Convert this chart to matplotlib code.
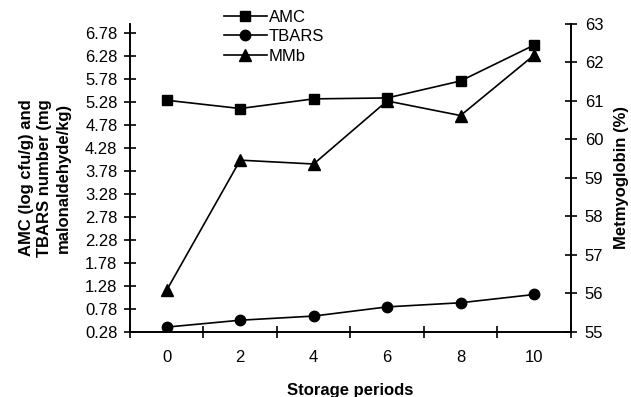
import numpy as np
import matplotlib.pyplot as plt
from matplotlib.ticker import FixedLocator, NullFormatter

plt.rcParams['font.family'] = ['Liberation Sans', 'DejaVu Sans']

# data
periods = ['0', '2', '4', '6', '8', '10']
amc = [5.32, 5.14, 5.35, 5.37, 5.74, 6.52]
tbars = [0.38, 0.53, 0.62, 0.82, 0.91, 1.09]
mmb = [56.08, 59.46, 59.36, 61.0, 60.62, 62.19]

left_ticks = [0.28, 0.78, 1.28, 1.78, 2.28, 2.78, 3.28, 3.78, 4.28, 4.78, 5.28, 5.78, 6.28, 6.78]
right_ticks = [55, 56, 57, 58, 59, 60, 61, 62, 63]

fig = plt.figure(figsize=(6.31, 3.97), dpi=100)
ax = fig.add_axes([0.206, 0.1645, 0.6985, 0.775])
ax2 = ax.twinx()

x = np.arange(len(periods))
l1, = ax.plot(x, amc, '-s', color='black', lw=1.2, ms=7, label='AMC')
l2, = ax.plot(x, tbars, '-o', color='black', lw=1.2, ms=7.5, label='TBARS')
l3, = ax2.plot(x, mmb, '-^', color='black', lw=1.2, ms=8, label='MMb')

ax.set_xlim(-0.5, len(periods) - 0.5)
ax.set_ylim(0.28, 6.98)
ax2.set_ylim(55, 63)

ax.set_yticks(left_ticks)
ax.set_yticklabels(['%.2f' % t for t in left_ticks])
ax2.set_yticks(right_ticks)

ax.set_xticks(x)
ax.set_xticklabels(periods)
ax.xaxis.set_minor_locator(FixedLocator(np.arange(-0.5, len(periods), 1.0)))
ax.xaxis.set_minor_formatter(NullFormatter())
ax.tick_params(axis='x', which='major', length=0, pad=13, labelsize=12)
ax.tick_params(axis='x', which='minor', direction='inout', length=8, width=1.2)
ax.tick_params(axis='y', direction='inout', length=8, width=1.2, labelsize=12, pad=5)
ax2.tick_params(axis='y', direction='inout', length=8, width=1.2, labelsize=12, pad=6)

for a in (ax, ax2):
    a.spines['top'].set_visible(False)
    a.spines['left'].set_linewidth(1.2)
    a.spines['right'].set_linewidth(1.2)
    a.spines['bottom'].set_linewidth(1.2)

ax.set_xlabel('Storage periods', fontweight='bold', fontsize=12, labelpad=13)
ax.set_ylabel('AMC (log cfu/g) and\nTBARS number (mg\nmalonaldehyde/kg)',
              fontweight='bold', fontsize=12, linespacing=1.3, labelpad=10)
ax2.set_ylabel('Metmyoglobin (%)', fontweight='bold', fontsize=12, labelpad=8)

fig.legend(handles=[l1, l2, l3], loc='upper left', bbox_to_anchor=(0.336, 1.005),
           frameon=False, fontsize=12, handlelength=2.6, handletextpad=0.1,
           labelspacing=0.27, borderpad=0.2)

fig.savefig('out.png', dpi=100)
